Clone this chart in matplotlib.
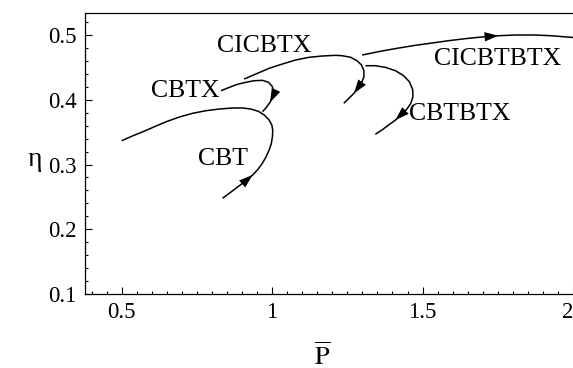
import matplotlib

matplotlib.use("Agg")
import matplotlib.pyplot as plt
from matplotlib.ticker import MultipleLocator

plt.rcParams["font.family"] = ["Liberation Serif", "DejaVu Serif"]
plt.rcParams["mathtext.fontset"] = "stix"

# branches (P-bar, eta), in the direction of the arrows
cbt_p = [0.835, 0.869, 0.891, 0.913, 0.935, 0.951, 0.966, 0.979, 0.990, 0.997, 1.001, 1.002, 0.999, 0.990,
         0.974, 0.954, 0.929, 0.902, 0.869, 0.825, 0.780, 0.736, 0.692, 0.648, 0.609, 0.571, 0.538, 0.500]
cbt_eta = [0.2478, 0.2595, 0.2673, 0.2750, 0.2838, 0.2915, 0.3008, 0.3111, 0.3224, 0.3317, 0.3429, 0.3533, 0.3610, 0.3687,
           0.3764, 0.3822, 0.3857, 0.3873, 0.3873, 0.3857, 0.3831, 0.3791, 0.3734, 0.3661, 0.3584, 0.3507, 0.3445, 0.3368]

cbtx_p = [0.830, 0.858, 0.885, 0.913, 0.940, 0.968, 0.988, 1.001, 1.004, 1.001, 0.993, 0.981, 0.968]
cbtx_eta = [0.4140, 0.4192, 0.4239, 0.4270, 0.4294, 0.4300, 0.4270, 0.4202, 0.4124, 0.4038, 0.3961, 0.3883, 0.3816]

cicbtx_p = [0.907, 0.946, 0.990, 1.034, 1.078, 1.123, 1.167, 1.211, 1.233, 1.261, 1.282, 1.297, 1.305, 1.305,
            1.299, 1.288, 1.272, 1.255, 1.238]
cicbtx_eta = [0.432, 0.4398, 0.4486, 0.4552, 0.4614, 0.4656, 0.4676, 0.4686, 0.468, 0.4656, 0.4603, 0.4537, 0.4449, 0.4356,
              0.4279, 0.4202, 0.410, 0.4022, 0.3945]

cbtbtx_p = [1.310, 1.343, 1.376, 1.410, 1.437, 1.456, 1.467, 1.468, 1.461, 1.448, 1.431, 1.410, 1.387, 1.365, 1.343]
cbtbtx_eta = [0.4526, 0.4526, 0.4501, 0.4449, 0.4371, 0.4279, 0.4161, 0.4047, 0.3945, 0.3857, 0.3780, 0.3687, 0.3610,
              0.3533, 0.3466]

cicbtbtx_p = [1.299, 1.365, 1.421, 1.476, 1.531, 1.586, 1.641, 1.696, 1.752, 1.807, 1.873, 1.928, 2.000]
cicbtbtx_eta = [0.4691, 0.4753, 0.4799, 0.4841, 0.4876, 0.4912, 0.4943, 0.4969, 0.4989, 0.5000, 0.5000, 0.4989, 0.4962]

# arrow tip sits on this point index of each branch
arrow_idx = {"CBT": 4, "CBTX": 10, "CICBTX": 16, "CBTBTX": 11, "CICBTBTX": 8}

labels = ["CBT", "CBTX", "CICBTX", "CBTBTX", "CICBTBTX"]
label_p = [0.838, 0.712, 0.974, 1.623, 1.748]
label_eta = [0.309, 0.414, 0.483, 0.378, 0.463]

branches = {
    "CBT": (cbt_p, cbt_eta),
    "CBTX": (cbtx_p, cbtx_eta),
    "CICBTX": (cicbtx_p, cicbtx_eta),
    "CBTBTX": (cbtbtx_p, cbtbtx_eta),
    "CICBTBTX": (cicbtbtx_p, cicbtbtx_eta),
}

fig = plt.figure(figsize=(5.73, 3.68), dpi=100)
ax = fig.add_axes([85 / 573, 74 / 368, 488 / 573, 281 / 368])

for name, (ps, es) in branches.items():
    ax.plot(ps, es, "-", color="black", lw=1.1, solid_capstyle="butt", solid_joinstyle="round")
    i = arrow_idx[name]
    ax.annotate(
        "",
        xy=(ps[i], es[i]),
        xytext=(ps[i - 1], es[i - 1]),
        arrowprops=dict(
            arrowstyle="-|>,head_length=0.62,head_width=0.21",
            color="black",
            lw=0.0,
            mutation_scale=16,
            shrinkA=0,
            shrinkB=0,
        ),
    )

for txt, p, e in zip(labels, label_p, label_eta):
    ax.text(p, e, txt, fontsize=18.5, ha="center", va="center")

ax.set_xlim(0.378, 2.0)
ax.set_ylim(0.1, 0.534)
ax.set_xticks([0.5, 1, 1.5, 2], ["0.5", "1", "1.5", "2"])
ax.xaxis.set_minor_locator(MultipleLocator(0.05))
ax.yaxis.set_major_locator(MultipleLocator(0.1))
ax.yaxis.set_minor_locator(MultipleLocator(0.02))
ax.yaxis.set_major_formatter(lambda v, pos: f"{v:g}")
ax.tick_params(which="both", direction="in", width=0.8, top=False, right=False, labelsize=16.5)
ax.tick_params(which="major", length=5, pad=6)
ax.tick_params(which="minor", length=2.5)
ax.get_xticklabels()[-1].set_horizontalalignment("right")
ax.spines["right"].set_visible(False)
for s in ("left", "bottom", "top"):
    ax.spines[s].set_linewidth(0.9)

ax.set_xlabel(r"$\overline{\mathrm{P}}$", fontsize=19)
ax.xaxis.set_label_coords(0.486, -0.17)
ax.set_ylabel("η", fontsize=20, rotation=0, va="center")
ax.yaxis.set_label_coords(-0.102, 0.477)

fig.savefig("out.png", dpi=100)
